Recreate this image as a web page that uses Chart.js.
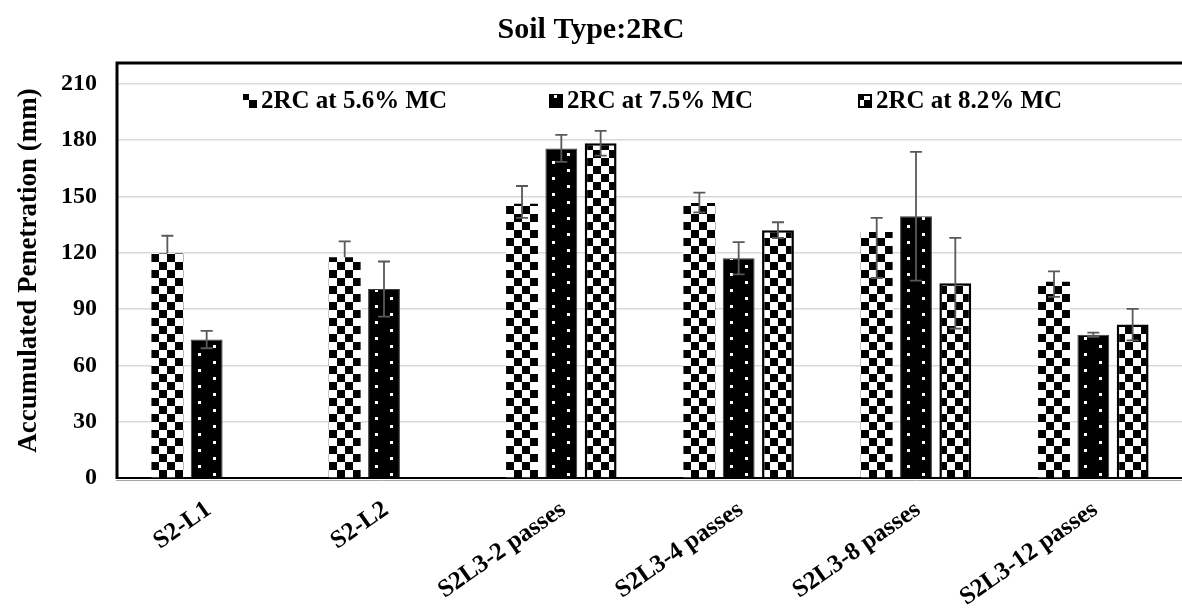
<!DOCTYPE html>
<html><head><meta charset="utf-8">
<style>html,body{margin:0;padding:0;background:#fff}#wrap{width:1182px;height:609px;position:relative}</style>
<script src="https://cdn.jsdelivr.net/npm/chart.js@4.4.1/dist/chart.umd.min.js"></script>
</head><body><div id="wrap"><canvas id="c"></canvas></div>
<script>
const categories = ['S2-L1','S2-L2','S2L3-2 passes','S2L3-4 passes','S2L3-8 passes','S2L3-12 passes'];
const seriesNames = ['2RC at 5.6% MC','2RC at 7.5% MC','2RC at 8.2% MC'];
const mc56 = [119.5, 117.5, 146, 146.5, 131, 104.5];
const mc56ErrPlus = [9.5, 8.5, 9.5, 5.5, 7.5, 5.5];
const mc56ErrMinus = [0, 0, 7.5, 5, 24.5, 8];
const mc75 = [73.7, 100.6, 175.5, 117, 139.4, 76.3];
const mc75Err = [4.6, 14.7, 7.2, 8.6, 34.3, 1.1];
const mc82 = [null, null, 178.3, 132, 103.7, 81.7];
const mc82Err = [null, null, 6.6, 4.2, 24.2, 8.4];
const yTicks = [0, 30, 60, 90, 120, 150, 180, 210];
const titleText = 'Soil Type:2RC';
const yTitle = 'Accumulated Penetration (mm)';

const FONT = "'Liberation Serif', 'Times New Roman', serif";
const CAT_PCT = 0.665, BAR_PCT = 0.81;

function checkerTile(){
  const c = document.createElement('canvas'); c.width = 16; c.height = 16;
  const g = c.getContext('2d');
  g.fillStyle = '#fff'; g.fillRect(0,0,16,16);
  g.fillStyle = '#000'; g.fillRect(0,0,8,8); g.fillRect(8,8,8,8);
  return c;
}
function dotTile(){
  const c = document.createElement('canvas'); c.width = 32; c.height = 16;
  const g = c.getContext('2d');
  g.fillStyle = '#000'; g.fillRect(0,0,32,16);
  g.fillStyle = '#fff'; g.fillRect(7,3,3,3); g.fillRect(22,11,3,3);
  return c;
}
const tiles = [checkerTile(), dotTile(), checkerTile()];

function barFill(ctx){
  const chart = ctx.chart;
  const tile = tiles[ctx.datasetIndex];
  const p = chart.ctx.createPattern(tile, 'repeat');
  const xs = chart.scales.x;
  if (ctx.type === 'data' && xs && chart.chartArea) {
    const n = chart.data.datasets.length;
    const catW = xs.width / categories.length;
    const groupW = catW * CAT_PCT, slot = groupW / n, barW = slot * BAR_PCT;
    const center = xs.getPixelForValue(ctx.dataIndex);
    const left = center - groupW / 2 + slot * ctx.datasetIndex + (slot - barW) / 2;
    p.setTransform(new DOMMatrix([1,0,0,1,Math.round(left), Math.round(chart.chartArea.bottom)]));
  }
  return p;
}

const errorBars = {
  id: 'errorBars',
  afterDatasetsDraw(chart){
    const g = chart.ctx, ys = chart.scales.y;
    chart.data.datasets.forEach((ds, i) => {
      const meta = chart.getDatasetMeta(i);
      meta.data.forEach((bar, j) => {
        const v = ds.data[j];
        if (v == null || ds.errPlus[j] == null) return;
        const yt = ys.getPixelForValue(v + ds.errPlus[j]);
        const yb = ys.getPixelForValue(v - ds.errMinus[j]);
        const x = bar.x, cw = 6;
        g.save();
        g.strokeStyle = '#595959'; g.lineWidth = 1.8;
        g.beginPath();
        g.moveTo(x, yt); g.lineTo(x, yb);
        g.moveTo(x - cw, yt); g.lineTo(x + cw, yt);
        if (ds.errMinus[j] > 0) { g.moveTo(x - cw, yb); g.lineTo(x + cw, yb); }
        g.stroke();
        g.restore();
      });
    });
  }
};

const frame = {
  id: 'frame',
  afterDraw(chart){
    const g = chart.ctx, a = chart.chartArea;
    g.save();
    g.strokeStyle = '#000'; g.lineWidth = 3;
    g.beginPath();
    g.moveTo(a.left - 1, a.bottom + 1); g.lineTo(a.left - 1, a.top); g.lineTo(a.right, a.top);
    g.stroke();
    g.strokeStyle = '#a6a6a6'; g.lineWidth = 1;
    g.beginPath();
    g.moveTo(a.left - 2, a.bottom + 2.5); g.lineTo(a.right, a.bottom + 2.5);
    g.stroke();
    g.restore();
  }
};

const legendInside = {
  id: 'legendInside',
  afterDraw(chart){
    const g = chart.ctx, a = chart.chartArea;
    const starts = [125, 431, 740];
    const yc = a.top + 38;
    g.save();
    g.font = "bold 25px " + FONT;
    g.textBaseline = 'middle'; g.textAlign = 'left'; g.fillStyle = '#000';
    chart.data.datasets.forEach((ds, i) => {
      const x = a.left + starts[i];
      const p = g.createPattern(tiles[i], 'repeat');
      p.setTransform(new DOMMatrix([1,0,0,1,x - 2, yc - 9]));
      g.fillStyle = p;
      g.fillRect(x, yc - 7, 14, 14);
      if (i === 2) { g.strokeStyle = '#000'; g.lineWidth = 2; g.strokeRect(x + 1, yc - 6, 12, 12); }
      g.fillStyle = '#000';
      g.fillText(ds.label, x + 18, yc + 1);
    });
    g.restore();
  }
};

new Chart(document.getElementById('c'), {
  type: 'bar',
  data: {
    labels: categories,
    datasets: [
      { label: seriesNames[0], data: mc56, errPlus: mc56ErrPlus, errMinus: mc56ErrMinus,
        backgroundColor: barFill, borderWidth: 0 },
      { label: seriesNames[1], data: mc75, errPlus: mc75Err, errMinus: mc75Err,
        backgroundColor: barFill, borderColor: '#3a3a3a', borderWidth: 1 },
      { label: seriesNames[2], data: mc82, errPlus: mc82Err, errMinus: mc82Err,
        backgroundColor: barFill, borderColor: '#000', borderWidth: 2.5 }
    ]
  },
  options: {
    responsive: true,
    maintainAspectRatio: false,
    animation: false,
    devicePixelRatio: 1,
    layout: { padding: { left: 0, right: 0, top: 0, bottom: 0 } },
    datasets: { bar: { categoryPercentage: CAT_PCT, barPercentage: BAR_PCT } },
    plugins: {
      legend: { display: false },
      tooltip: { enabled: false },
      title: {
        display: true, text: titleText, color: '#000',
        font: { family: FONT, size: 30, weight: 'bold' },
        padding: { top: 12, bottom: 15 }
      }
    },
    scales: {
      x: {
        grid: { display: false },
        border: { display: true, color: '#000', width: 2 },
        ticks: {
          color: '#000', font: { family: FONT, size: 25, weight: 'bold' },
          minRotation: 35, maxRotation: 35, padding: 9, labelOffset: 2, autoSkip: false
        },
        afterFit(s){ s.height = 131; }
      },
      y: {
        min: 0, max: 221,
        afterBuildTicks(s){ s.ticks = yTicks.map(v => ({ value: v })); },
        grid: { color: '#d9d9d9', lineWidth: 1.5, drawTicks: false },
        border: { display: false },
        ticks: { color: '#000', font: { family: FONT, size: 24, weight: 'bold' }, padding: 21 },
        title: {
          display: true, text: yTitle, color: '#000',
          font: { family: FONT, size: 27, weight: 'bold' },
          padding: { top: 13, bottom: 0 }
        },
        afterFit(s){ s.width = 118; }
      }
    }
  },
  plugins: [errorBars, frame, legendInside]
});
</script>
</body></html>
